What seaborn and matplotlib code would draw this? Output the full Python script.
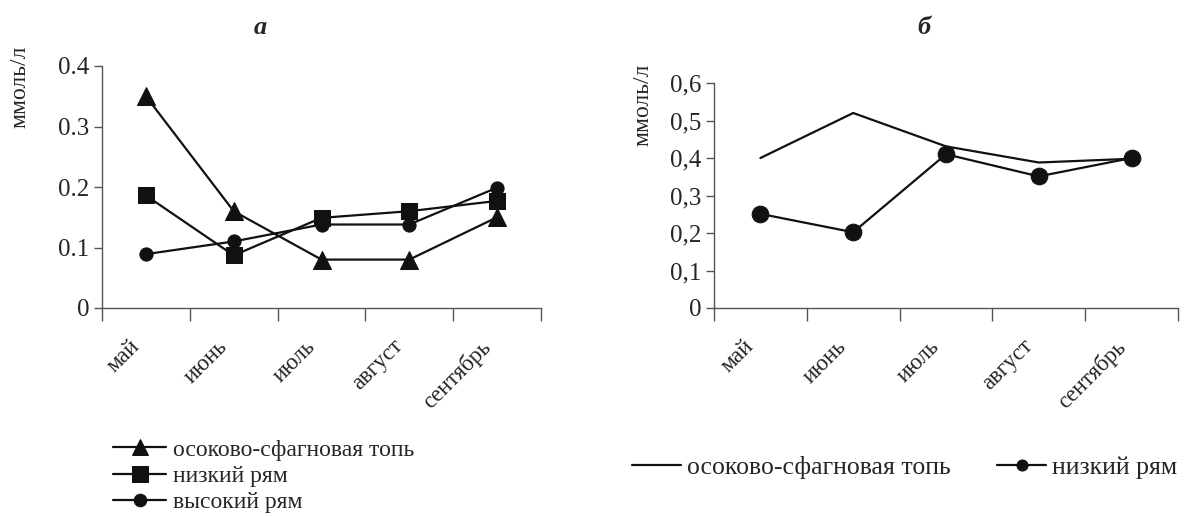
import matplotlib
matplotlib.use("Agg")
import matplotlib.pyplot as plt
import matplotlib.transforms as mtransforms
import seaborn as sns
import pandas as pd
import numpy as np
from matplotlib.ticker import FixedLocator, FixedFormatter

months = ["май", "июнь", "июль", "август", "сентябрь"]

# panel a
a_top = [0.35, 0.16, 0.08, 0.08, 0.15]
a_low = [0.186, 0.087, 0.149, 0.16, 0.177]
a_high = [0.089, 0.11, 0.138, 0.138, 0.199]
a_names = ["осоково-сфагновая топь", "низкий рям", "высокий рям"]

# panel б
b_top = [0.40, 0.52, 0.431, 0.388, 0.398]
b_low = [0.251, 0.202, 0.41, 0.351, 0.40]
b_names = ["осоково-сфагновая топь", "низкий рям"]

a_yticks = [0, 0.1, 0.2, 0.3, 0.4]
a_ylabels = ["0", "0.1", "0.2", "0.3", "0.4"]
b_yticks = [0, 0.1, 0.2, 0.3, 0.4, 0.5, 0.6]
b_ylabels = ["0", "0,1", "0,2", "0,3", "0,4", "0,5", "0,6"]

sns.set_style("ticks")
plt.rcParams["font.family"] = ["Liberation Serif", "DejaVu Serif"]

W, H = 1184, 516
fig = plt.figure(figsize=(W / 100, H / 100), dpi=100)

def px_axes(x0, x1, ytop, ybot):
    return fig.add_axes([x0 / W, 1 - ybot / H, (x1 - x0) / W, (ybot - ytop) / H])

axA = px_axes(102, 541, 66, 308)
axB = px_axes(714, 1178, 83, 308)

x = np.arange(len(months))
dfA = pd.DataFrame({"x": np.tile(x, 3),
                    "y": a_top + a_low + a_high,
                    "s": np.repeat(a_names, len(months))})
dfB = pd.DataFrame({"x": np.tile(x, 2),
                    "y": b_top + b_low,
                    "s": np.repeat(b_names, len(months))})

lw = 1.6
ink = "#111111"
sns.lineplot(data=dfA[dfA.s == a_names[0]], x="x", y="y", ax=axA, color=ink,
             lw=lw, marker="^", markersize=12.5, markeredgecolor=ink, label=a_names[0])
sns.lineplot(data=dfA[dfA.s == a_names[1]], x="x", y="y", ax=axA, color=ink,
             lw=lw, marker="s", markersize=11.5, markeredgecolor=ink, label=a_names[1])
sns.lineplot(data=dfA[dfA.s == a_names[2]], x="x", y="y", ax=axA, color=ink,
             lw=lw, marker="o", markersize=9.5, markeredgecolor=ink, label=a_names[2])

sns.lineplot(data=dfB[dfB.s == b_names[0]], x="x", y="y", ax=axB, color=ink,
             lw=lw, label=b_names[0])
sns.lineplot(data=dfB[dfB.s == b_names[1]], x="x", y="y", ax=axB, color=ink,
             lw=lw, marker="o", markersize=12, markeredgecolor=ink, label=b_names[1])

offset = mtransforms.ScaledTranslation(-17 / 100, 0, fig.dpi_scale_trans)
for ax, yt, yl, ymax in [(axA, a_yticks, a_ylabels, 0.4), (axB, b_yticks, b_ylabels, 0.6)]:
    ax.set_xlim(-0.5, len(months) - 0.5)
    ax.set_ylim(0, ymax)
    ax.set_yticks(yt)
    ax.set_yticklabels(yl, fontsize=18)
    ax.xaxis.set_major_locator(FixedLocator(np.arange(-0.5, len(months), 1.0)))
    ax.xaxis.set_major_formatter(FixedFormatter([""] * (len(months) + 1)))
    ax.xaxis.set_minor_locator(FixedLocator(x))
    ax.xaxis.set_minor_formatter(FixedFormatter(months))
    ax.tick_params(axis="x", which="major", length=9, width=1, color="#555555", direction="out")
    ax.tick_params(axis="x", which="minor", length=0, pad=20, labelsize=16.5)
    ax.tick_params(axis="y", length=6, width=1, color="#555555", pad=3)
    for lab in ax.xaxis.get_minorticklabels():
        lab.set_rotation(45)
        lab.set_ha("right")
        lab.set_va("top")
        lab.set_rotation_mode("anchor")
        lab.set_transform(lab.get_transform() + offset)
    for sp in ["top", "right"]:
        ax.spines[sp].set_visible(False)
    for sp in ["left", "bottom"]:
        ax.spines[sp].set_color("#555555")
        ax.spines[sp].set_linewidth(1)
    ax.set_xlabel("")
    ax.set_ylabel("")
    ax.get_legend().remove()

fig.text(260 / W, 1 - 28 / H, "а", fontsize=19, fontweight="bold", style="italic",
         ha="center", va="center")
fig.text(924 / W, 1 - 28 / H, "б", fontsize=19, fontweight="bold", style="italic",
         ha="center", va="center")
fig.text(20 / W, 1 - 87 / H, "ммоль/л", fontsize=17, rotation=90, ha="center", va="center")
fig.text(643 / W, 1 - 105 / H, "ммоль/л", fontsize=17, rotation=90, ha="center", va="center")

hA, lA = axA.get_legend_handles_labels()
fig.legend(hA, lA, loc="upper left", bbox_to_anchor=(113 / W, 1 - 439 / H), frameon=False,
           fontsize=17, handlelength=2.25, handletextpad=0.3, labelspacing=0.2,
           borderpad=0, borderaxespad=0, markerscale=0.95)
hB, lB = axB.get_legend_handles_labels()
fig.legend(hB, lB, loc="upper left", bbox_to_anchor=(632 / W, 1 - 456 / H), frameon=False,
           fontsize=18.5, ncol=2, handlelength=1.9, handletextpad=0.25, columnspacing=1.8,
           borderpad=0, borderaxespad=0, markerscale=0.66)

fig.savefig("out.png", dpi=100)
